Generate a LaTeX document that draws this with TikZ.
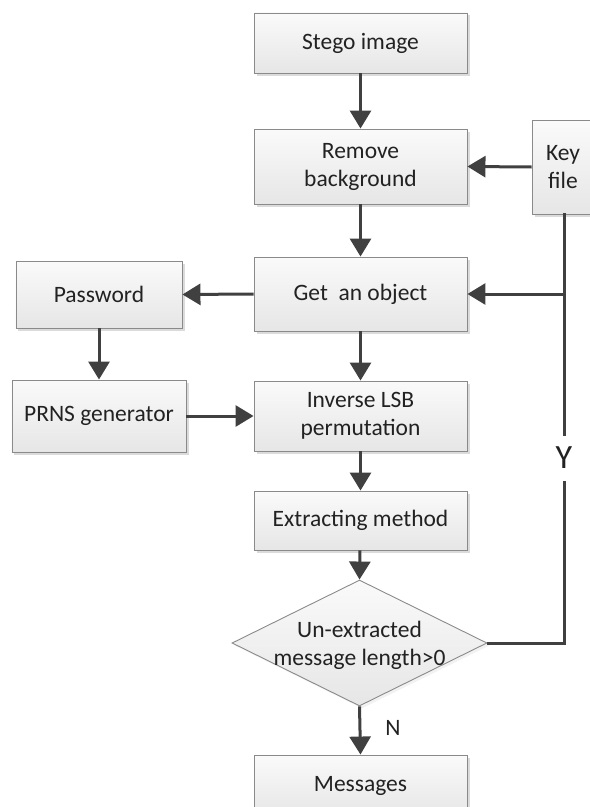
\documentclass[tikz,border=0pt]{standalone}
\usepackage{fontspec}
\setmainfont{Carlito}
\usetikzlibrary{arrows.meta,shapes.geometric,shadows}
\definecolor{lnc}{HTML}{404040}
\definecolor{bdc}{HTML}{8A8A8A}
\definecolor{txc}{HTML}{222222}
\definecolor{topc}{HTML}{FAFAFA}
\definecolor{botc}{HTML}{E6E6E6}
\tikzset{
  box/.style={draw=bdc, line width=0.9bp, top color=topc, bottom color=botc,
    align=center, text=txc, inner sep=2bp,
    drop shadow={shadow xshift=2.5bp, shadow yshift=-2.5bp, fill=black!14, opacity=1}},
  dia/.style={diamond, draw=bdc, line width=0.9bp, top color=topc, bottom color=botc,
    align=center, text=txc, inner sep=0bp, minimum width=255bp, minimum height=126bp,
    shape aspect=2.02},
  arr/.style={draw=lnc, line width=3bp, -{Triangle[length=18bp,width=21bp]}},
  ln/.style={draw=lnc, line width=3bp},
  lbl/.style={text=txc, inner sep=0bp}
}
\begin{document}
\begin{tikzpicture}[x=1bp,y=-1bp, font=\fontsize{23.5bp}{28bp}\selectfont]
\useasboundingbox (0,0) rectangle (590,807);
\node[box, minimum width=213bp, minimum height=60bp] (stego) at (360.5,43) {Stego image};
\node[box, minimum width=213bp, minimum height=75bp] (remove) at (360.5,166.5) {Remove\\background};
\node[box, minimum width=62bp, minimum height=94bp] (key) at (563,167) {Key\\file};
\node[box, minimum width=213bp, minimum height=74bp] (getobj) at (360.5,294) {Get\ \ an object};
\node[box, minimum width=166bp, minimum height=67bp] (pass) at (99,294.5) {Password};
\node[box, minimum width=174bp, minimum height=72bp] (prns) at (99,416) {PRNS generator};
\node[box, minimum width=213bp, minimum height=70bp] (inv) at (360.5,416) {Inverse LSB\\permutation};
\node[box, minimum width=213bp, minimum height=59bp] (ext) at (360.5,520.5) {Extracting method};
\node[dia, drop shadow={shadow xshift=2.5bp, shadow yshift=-2.5bp, fill=black!10}] (dec) at (359.5,643) {};
\node[lbl, align=center] (dectext) at (359.5,645) {Un-extracted\\message length>0};
\node[box, minimum width=213bp, minimum height=62bp] (msg) at (360.5,786) {Messages};

\coordinate (corner) at (564,643);
\coordinate (junc) at (564,294);
\draw[arr] (stego) -- (remove);
\draw[arr] (key.west) -- (remove.east);
\draw[arr] (remove) -- (getobj);
\draw[arr] (getobj.west) -- (pass.east);
\draw[arr] (pass) -- (prns);
\draw[arr] (prns.east) -- (inv.west);
\draw[arr] (getobj) -- (inv);
\draw[arr] (inv) -- (ext);
\draw[arr] (ext) -- (dec.north);
\draw[arr] (dec.south) -- (msg.north);
\node[lbl] (nlab) at (393,728) {N};
\draw[ln] (dec.east) -- (corner) -- (junc) -- (564,213);
\draw[arr] (junc) -- (getobj.east);
\node[fill=white, inner sep=0bp, minimum width=26bp, minimum height=45bp, text=txc,
  font=\fontsize{34bp}{34bp}\selectfont] (ylab) at (564,458) {Y};
\end{tikzpicture}
\end{document}
